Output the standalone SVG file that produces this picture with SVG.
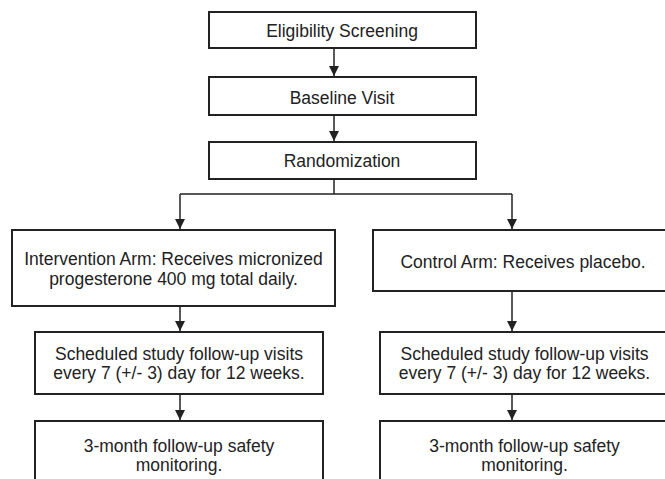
<svg xmlns="http://www.w3.org/2000/svg" width="665" height="479" viewBox="0 0 665 479">
<style>
.box{fill:#fff;stroke:#222;stroke-width:2}
.t{font-family:"Liberation Sans",Arial,sans-serif;font-size:17.5px;fill:#222;text-anchor:middle}
.c{fill:none;stroke:#222;stroke-width:1.5}
</style>
<defs>
<marker id="ah" markerUnits="userSpaceOnUse" markerWidth="10" markerHeight="12" refX="5" refY="11" orient="auto-start-reverse" viewBox="0 0 10 12">
<path d="M0,0 L10,0 L5,11 Z" fill="#222" transform="rotate(0)"/>
</marker>
<marker id="a" markerUnits="userSpaceOnUse" markerWidth="10" markerHeight="11" refX="10" refY="5" orient="auto" viewBox="0 0 10 10">
<path d="M0,0 L10,5 L0,10 Z" fill="#222"/>
</marker>
</defs>
<rect width="665" height="479" fill="#fff"/>
<g id="connectors">
<path class="c" d="M334,48 V76" marker-end="url(#a)"/>
<path class="c" d="M334,115 V141" marker-end="url(#a)"/>
<path class="c" d="M334,179 V194 M180,194 H512"/>
<path class="c" d="M180,194 V229" marker-end="url(#a)"/>
<path class="c" d="M512,194 V229" marker-end="url(#a)"/>
<path class="c" d="M180,306 V331" marker-end="url(#a)"/>
<path class="c" d="M512,291 V331" marker-end="url(#a)"/>
<path class="c" d="M180,394 V420" marker-end="url(#a)"/>
<path class="c" d="M512,394 V420" marker-end="url(#a)"/>
</g>
<g id="eligibility">
<rect class="box" x="209" y="12" width="267" height="36"/>
<text class="t" x="342" y="36.5">Eligibility Screening</text>
</g>
<g id="baseline">
<rect class="box" x="209" y="77" width="267" height="38"/>
<text class="t" x="342" y="103.5">Baseline Visit</text>
</g>
<g id="randomization">
<rect class="box" x="209" y="142" width="267" height="37"/>
<text class="t" x="342" y="167">Randomization</text>
</g>
<g id="intervention">
<rect class="box" x="12" y="230" width="323" height="76"/>
<text class="t" x="173.5" y="265">Intervention Arm: Receives micronized</text>
<text class="t" x="173.5" y="285">progesterone 400 mg total daily.</text>
</g>
<g id="control">
<rect class="box" x="373" y="230" width="300" height="61"/>
<text class="t" x="523" y="268">Control Arm: Receives placebo.</text>
</g>
<g id="followup-left">
<rect class="box" x="35" y="332" width="288" height="62"/>
<text class="t" x="179" y="360">Scheduled study follow-up visits</text>
<text class="t" x="179" y="379">every 7 (+/- 3) day for 12 weeks.</text>
</g>
<g id="followup-right">
<rect class="box" x="380" y="332" width="290" height="62"/>
<text class="t" x="524.5" y="360">Scheduled study follow-up visits</text>
<text class="t" x="524.5" y="379">every 7 (+/- 3) day for 12 weeks.</text>
</g>
<g id="safety-left">
<rect class="box" x="35" y="421" width="288" height="70"/>
<text class="t" x="179" y="451.5">3-month follow-up safety</text>
<text class="t" x="179" y="470.5">monitoring.</text>
</g>
<g id="safety-right">
<rect class="box" x="380" y="421" width="290" height="70"/>
<text class="t" x="524.5" y="451.5">3-month follow-up safety</text>
<text class="t" x="524.5" y="470.5">monitoring.</text>
</g>
</svg>
